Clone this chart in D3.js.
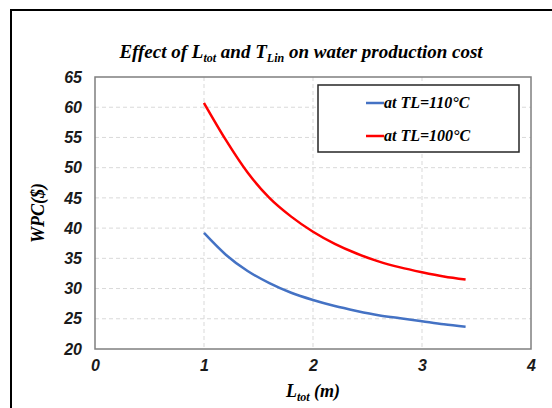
<!DOCTYPE html>
<html>
<head>
<meta charset="utf-8">
<script src="https://cdn.jsdelivr.net/npm/d3@7"></script>
<style>
  html, body { margin: 0; padding: 0; background: #fff; }
  svg { display: block; }
</style>
</head>
<body>
<svg id="chart" width="552" height="408"></svg>
<script>
// Total length L_tot (m)
const lengths = [1.0, 1.2, 1.4, 1.6, 1.8, 2.0, 2.2, 2.4, 2.6, 2.8, 3.0, 3.2, 3.4];
// Water production cost ($) for each inlet temperature
const wpc110 = [39.2, 35.6, 32.9, 30.9, 29.3, 28.1, 27.1, 26.3, 25.6, 25.1, 24.6, 24.1, 23.7];
const wpc100 = [60.7, 54.6, 49.2, 45.0, 41.9, 39.4, 37.4, 35.8, 34.5, 33.5, 32.7, 32.0, 31.5];
const seriesNames = ["at TL=110°C", "at TL=100°C"];
const seriesColors = ["#4472C4", "#FF0000"];
const xTicks = [0, 1, 2, 3, 4];
const yTicks = [20, 25, 30, 35, 40, 45, 50, 55, 60, 65];

const svg = d3.select("#chart");
const serif = "'Liberation Serif', 'Times New Roman', serif";
const sans = "'Liberation Sans', Arial, sans-serif";

// outer frame (runs off the right and bottom edges)
svg.append("path")
  .attr("d", "M11,420 L11,10 L560,10")
  .attr("fill", "none").attr("stroke", "#000").attr("stroke-width", 2);

const plot = { left: 95, right: 531, top: 77, bottom: 349 };
const x = d3.scaleLinear().domain([0, 4]).range([plot.left, plot.right]);
const y = d3.scaleLinear().domain([20, 65]).range([plot.bottom, plot.top]);

// gridlines
const grid = svg.append("g").attr("stroke", "#d9d9d9").attr("stroke-dasharray", "4,3").attr("stroke-width", 1);
grid.selectAll("line.h").data(yTicks.slice(1, -1)).join("line")
  .attr("x1", plot.left).attr("x2", plot.right)
  .attr("y1", d => y(d)).attr("y2", d => y(d));
grid.selectAll("line.v").data(xTicks.slice(1, -1)).join("line")
  .attr("y1", plot.top).attr("y2", plot.bottom)
  .attr("x1", d => x(d)).attr("x2", d => x(d));

// plot border
svg.append("rect")
  .attr("x", plot.left).attr("y", plot.top)
  .attr("width", plot.right - plot.left).attr("height", plot.bottom - plot.top)
  .attr("fill", "none").attr("stroke", "#7f7f7f").attr("stroke-width", 1.5);

// axes (labels only)
const yAxis = d3.axisLeft(y).tickValues(yTicks).tickSize(0).tickPadding(13).tickFormat(d3.format("d"));
svg.append("g").attr("transform", `translate(${plot.left},0)`).call(yAxis)
  .call(g => g.select(".domain").remove())
  .selectAll("text")
  .attr("font-family", sans).attr("font-size", 16).attr("font-weight", "bold")
  .attr("font-style", "italic").attr("fill", "#1a1a1a");

const xAxis = d3.axisBottom(x).tickValues(xTicks).tickSize(0).tickPadding(11).tickFormat(d3.format("d"));
svg.append("g").attr("transform", `translate(0,${plot.bottom})`).call(xAxis)
  .call(g => g.select(".domain").remove())
  .selectAll("text")
  .attr("font-family", sans).attr("font-size", 16).attr("font-weight", "bold")
  .attr("font-style", "italic").attr("fill", "#1a1a1a");

// lines
const line = d3.line().x(d => x(d[0])).y(d => y(d[1])).curve(d3.curveMonotoneX);
[wpc110, wpc100].forEach((vals, i) => {
  svg.append("path")
    .datum(lengths.map((l, j) => [l, vals[j]]))
    .attr("fill", "none").attr("stroke", seriesColors[i]).attr("stroke-width", 2.5)
    .attr("d", line);
});

// title
const title = svg.append("text")
  .attr("x", 301).attr("y", 58).attr("text-anchor", "middle")
  .attr("font-family", serif).attr("font-size", 19).attr("font-weight", "bold")
  .attr("font-style", "italic").attr("fill", "#000");
title.append("tspan").text("Effect of L");
title.append("tspan").text("tot").attr("font-size", 12).attr("dy", 4);
title.append("tspan").text(" and T").attr("dy", -4);
title.append("tspan").text("Lin").attr("font-size", 12).attr("dy", 4);
title.append("tspan").text(" on water production cost").attr("dy", -4);

// y-axis title
svg.append("text")
  .attr("transform", `translate(44,${(plot.top + plot.bottom) / 2}) rotate(-90)`)
  .attr("text-anchor", "middle")
  .attr("font-family", serif).attr("font-size", 18).attr("font-weight", "bold")
  .attr("font-style", "italic").text("WPC($)");

// x-axis title
const xt = svg.append("text")
  .attr("x", x(2)).attr("y", 397).attr("text-anchor", "middle")
  .attr("font-family", serif).attr("font-size", 18).attr("font-weight", "bold")
  .attr("font-style", "italic");
xt.append("tspan").text("L");
xt.append("tspan").text("tot").attr("font-size", 12).attr("dy", 4);
xt.append("tspan").text(" (m)").attr("dy", -4);

// legend
const legend = svg.append("g");
legend.append("rect")
  .attr("x", 318).attr("y", 85).attr("width", 201).attr("height", 67)
  .attr("fill", "#fff").attr("stroke", "#262626").attr("stroke-width", 1.5);
seriesNames.forEach((name, i) => {
  const ly = 103 + i * 33;
  legend.append("line")
    .attr("x1", 366).attr("x2", 384).attr("y1", ly).attr("y2", ly)
    .attr("stroke", seriesColors[i]).attr("stroke-width", 2.5);
  legend.append("text")
    .attr("x", 384).attr("y", ly + 5)
    .attr("font-family", serif).attr("font-size", 16).attr("font-weight", "bold")
    .attr("font-style", "italic").text(name);
});
</script>
</body>
</html>
